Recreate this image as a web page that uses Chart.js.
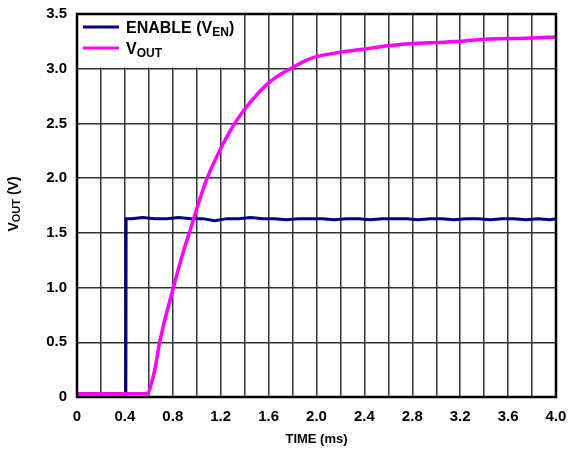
<!DOCTYPE html>
<html>
<head>
<meta charset="utf-8">
<script src="https://cdn.jsdelivr.net/npm/chart.js@4.4.0/dist/chart.umd.min.js"></script>
<style>
  body { margin: 0; background: #fff; }
  #wrap { width: 569px; height: 452px; }
</style>
</head>
<body>
<div id="wrap"><canvas id="chart" width="569" height="452"></canvas></div>
<script>
// ENABLE trace (ms, V)
const enableTime = [0, 0.408, 0.41, 0.45, 0.55, 0.65, 0.75, 0.85, 0.95, 1.05, 1.15, 1.25, 1.35, 1.45, 1.55, 1.65, 1.75, 1.85, 1.95, 2.05,
                    2.15, 2.25, 2.35, 2.45, 2.55, 2.65, 2.75, 2.85, 2.95, 3.05, 3.15, 3.25, 3.35, 3.45, 3.55, 3.65, 3.75, 3.85, 3.95, 4.0];
const enableVolt = [0.03, 0.03, 1.63, 1.63, 1.64, 1.63, 1.63, 1.64, 1.63, 1.63, 1.61, 1.63, 1.63, 1.64, 1.63, 1.63, 1.62, 1.63, 1.63, 1.63,
                    1.62, 1.63, 1.63, 1.62, 1.63, 1.63, 1.63, 1.62, 1.63, 1.63, 1.62, 1.63, 1.63, 1.62, 1.63, 1.63, 1.62, 1.63, 1.62, 1.63];

// VOUT trace (ms, V)
const voutTime = [0, 0.59, 0.62, 0.65, 0.69, 0.8, 0.9, 0.95, 1.0, 1.08, 1.2, 1.3, 1.4, 1.5, 1.6, 1.7, 1.8, 1.9,
                  2.0, 2.2, 2.4, 2.6, 2.8, 3.0, 3.2, 3.4, 3.6, 3.8, 4.0];
const voutVolt = [0.03, 0.03, 0.12, 0.25, 0.5, 0.98, 1.37, 1.54, 1.72, 1.98, 2.27, 2.47, 2.63, 2.76, 2.87, 2.95, 3.01, 3.07,
                  3.11, 3.15, 3.18, 3.21, 3.23, 3.24, 3.25, 3.27, 3.275, 3.28, 3.29];

const FONT = "'Liberation Sans', Arial, sans-serif";

function toPoints(xs, ys) {
    return xs.map((x, i) => ({ x: x, y: ys[i] }));
}

// draws text with a subscript part
function drawSub(ctx, x, y, main, sub, after, size, subSize) {
    ctx.font = 'bold ' + size + 'px ' + FONT;
    ctx.fillText(main, x, y);
    x += ctx.measureText(main).width;
    ctx.font = 'bold ' + subSize + 'px ' + FONT;
    ctx.fillText(sub, x, y + 3);
    x += ctx.measureText(sub).width;
    ctx.font = 'bold ' + size + 'px ' + FONT;
    ctx.fillText(after, x, y);
    return x + ctx.measureText(after).width;
}

function subWidth(ctx, main, sub, after, size, subSize) {
    ctx.font = 'bold ' + size + 'px ' + FONT;
    let w = ctx.measureText(main).width + ctx.measureText(after).width;
    ctx.font = 'bold ' + subSize + 'px ' + FONT;
    return w + ctx.measureText(sub).width;
}

const overlay = {
    id: 'overlay',
    beforeDatasetsDraw(chart) {
        const { ctx, chartArea: a, scales } = chart;
        const xs = scales.x, ys = scales.y;
        ctx.save();
        // legend box hides the grid behind it
        ctx.fillStyle = '#fff';
        ctx.fillRect(a.left, a.top, xs.getPixelForValue(1.4) - 1 - a.left, ys.getPixelForValue(3.0) - 1 - a.top);

        ctx.lineWidth = 3;
        ctx.strokeStyle = '#000080';
        ctx.beginPath(); ctx.moveTo(a.left + 6, a.top + 13); ctx.lineTo(a.left + 42, a.top + 13); ctx.stroke();
        ctx.strokeStyle = '#ff00ff';
        ctx.beginPath(); ctx.moveTo(a.left + 6, a.top + 34); ctx.lineTo(a.left + 42, a.top + 34); ctx.stroke();

        ctx.fillStyle = '#000';
        ctx.textBaseline = 'alphabetic';
        ctx.textAlign = 'left';
        drawSub(ctx, a.left + 49, a.top + 18.5, 'ENABLE (V', 'EN', ')', 16, 12);
        drawSub(ctx, a.left + 49, a.top + 39.5, 'V', 'OUT', '', 16, 12);
        ctx.restore();
    },
    afterDatasetsDraw(chart) {
        const { ctx, chartArea: a } = chart;
        ctx.save();
        ctx.strokeStyle = '#000';
        ctx.lineWidth = 2.5;
        ctx.strokeRect(a.left, a.top, a.right - a.left, a.bottom - a.top);

        // axis titles
        ctx.fillStyle = '#000';
        ctx.textAlign = 'center';
        ctx.textBaseline = 'middle';
        ctx.font = 'bold 13px ' + FONT;
        ctx.fillText('TIME (ms)', (a.left + a.right) / 2, 439);

        ctx.translate(14, 204);
        ctx.rotate(-Math.PI / 2);
        ctx.textAlign = 'left';
        ctx.textBaseline = 'middle';
        const w = subWidth(ctx, 'V', 'OUT', ' (V)', 14, 11);
        drawSub(ctx, -w / 2, 0, 'V', 'OUT', ' (V)', 14, 11);
        ctx.restore();
    }
};

const tickFont = { family: FONT, size: 15, weight: 'bold' };

new Chart(document.getElementById('chart').getContext('2d'), {
    type: 'line',
    data: {
        datasets: [{
            label: 'ENABLE (VEN)',
            data: toPoints(enableTime, enableVolt),
            borderColor: '#000080',
            borderWidth: 3,
            pointRadius: 0,
            tension: 0,
            order: 1
        }, {
            label: 'VOUT',
            data: toPoints(voutTime, voutVolt),
            borderColor: '#ff00ff',
            borderWidth: 3.5,
            pointRadius: 0,
            cubicInterpolationMode: 'monotone',
            order: 0
        }]
    },
    options: {
        responsive: false,
        animation: false,
        layout: { padding: { top: 14, right: 13, left: 0, bottom: 0 } },
        plugins: {
            legend: { display: false },
            tooltip: { enabled: false }
        },
        scales: {
            x: {
                type: 'linear',
                min: 0,
                max: 4,
                afterFit: function(scale) {
                    scale.height = 55;
                    scale.paddingLeft = 0;
                    scale.paddingRight = 0;
                },
                grid: { color: '#333', lineWidth: 1.5, drawTicks: false },
                border: { display: false },
                ticks: {
                    stepSize: 0.2,
                    autoSkip: false,
                    maxRotation: 0,
                    padding: 11,
                    color: '#000',
                    font: tickFont,
                    callback: function(value) {
                        const k = Math.round(value * 10);
                        if (k % 4 !== 0) return '';
                        return k === 0 ? '0' : (k / 10).toFixed(1);
                    }
                }
            },
            y: {
                min: 0,
                max: 3.5,
                afterFit: function(scale) {
                    scale.width = 77;
                    scale.paddingTop = 0;
                    scale.paddingBottom = 0;
                },
                grid: { color: '#333', lineWidth: 1.5, drawTicks: false },
                border: { display: false },
                ticks: {
                    stepSize: 0.5,
                    padding: 10,
                    color: '#000',
                    font: tickFont,
                    callback: function(value) {
                        return value === 0 ? '0' : value.toFixed(1);
                    }
                }
            }
        }
    },
    plugins: [overlay]
});
</script>
</body>
</html>
